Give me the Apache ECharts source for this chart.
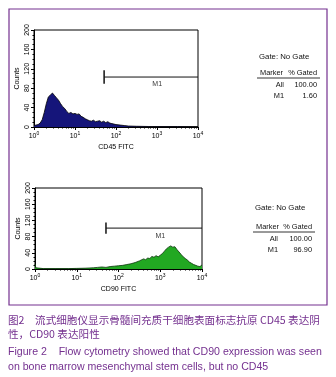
<!DOCTYPE html>
<html>
<head>
<meta charset="utf-8">
<script src="https://cdn.jsdelivr.net/npm/echarts@6/dist/echarts.min.js"></script>
<style>
  html, body { margin: 0; padding: 0; background: #fff; }
  #chart { width: 336px; height: 377px; }
</style>
</head>
<body>
<div id="chart"></div>
<script>
// CD45 histogram (x = log10 channel position, y = counts)
const cd45X = [0.00, 0.05, 0.10, 0.15, 0.20, 0.25, 0.30, 0.35, 0.40, 0.45, 0.50, 0.55, 0.60, 0.65, 0.70, 0.75,
  0.80, 0.85, 0.90, 0.95, 1.00, 1.05, 1.10, 1.15, 1.20, 1.25, 1.30, 1.35, 1.40, 1.45, 1.50, 1.55, 1.60, 1.65,
  1.70, 1.75, 1.80, 1.85, 1.90, 1.95, 2.00, 2.10, 2.20, 2.30, 2.50, 2.80, 3.00, 3.50, 4.00]
const cd45Y = [3, 4, 5, 8, 15, 30, 48, 62, 66, 70, 65, 60, 55, 48, 42, 38,
  32, 28, 30, 27, 28, 26, 27, 22, 20, 17, 15, 13, 12, 14, 11, 12, 13, 10,
  12, 9, 11, 8, 7, 6, 5, 4, 3, 2, 1.5, 1, 1, 1, 1]

// CD90 histogram
const cd90X = [0.00, 0.02, 0.05, 0.20, 0.50, 0.80, 1.00, 1.20, 1.40, 1.50, 1.60, 1.70, 1.80, 1.90, 2.00, 2.10,
  2.20, 2.30, 2.40, 2.50, 2.60, 2.65, 2.70, 2.75, 2.80, 2.85, 2.90, 2.95, 3.00, 3.05, 3.10, 3.15, 3.20, 3.25,
  3.30, 3.35, 3.40, 3.45, 3.50, 3.55, 3.60, 3.65, 3.70, 3.75, 3.80, 3.85, 3.90, 3.95, 4.00]
const cd90Y = [12, 3, 1, 1, 1, 1, 1.5, 2, 3, 4, 5, 4, 6, 7, 8, 9,
  11, 13, 16, 20, 25, 23, 27, 26, 31, 29, 33, 30, 34, 38, 44, 50, 54, 57,
  54, 55, 48, 42, 36, 30, 26, 22, 17, 14, 11, 9, 7, 6, 10]

// M1 gates: [start, end, level]
const gateCD45 = [1.71, 4, 103]
const gateCD90 = [1.70, 4, 101]

const yTicks = [0, 40, 80, 120, 160, 200]

const statsCD45 = [['All', '100.00'], ['M1', '1.60']]
const statsCD90 = [['All', '100.00'], ['M1', '96.90']]

const captionLines = [
  '图2\u3000流式细胞仪显示骨髓间充质干细胞表面标志抗原 CD45 表达阴',
  '性，CD90 表达阳性',
  'Figure 2    Flow cytometry showed that CD90 expression was seen',
  'on bone marrow mesenchymal stem cells, but no CD45',
]

const zip = (xs, ys) => xs.map((x, i) => [x, ys[i]])

// minor log ticks between decades
const logMinor = []
for (let d = 0; d < 4; d++) {
  for (let k = 2; k <= 9; k++) logMinor.push(d + Math.log10(k))
}

const font = 'Liberation Sans, Arial, sans-serif'
const purple = '#74308f'

function xMain(gridIndex, name) {
  return {
    type: 'value', gridIndex, min: 0, max: 4, interval: 1,
    name, nameLocation: 'middle', nameGap: 17,
    nameTextStyle: { fontSize: 7, color: '#000', fontFamily: font },
    axisLine: { lineStyle: { color: '#000', width: 1 } },
    axisTick: { show: true, length: 3, lineStyle: { color: '#000' } },
    splitLine: { show: false },
    axisLabel: {
      margin: 4,
      formatter: (v) => '10{s|' + v + '}',
      color: '#000', fontSize: 7, fontFamily: font,
      rich: { s: { fontSize: 5, padding: [0, 0, 5, 0], color: '#000', fontFamily: font } },
    },
  }
}

function xMinor(gridIndex) {
  return {
    type: 'value', gridIndex, min: 0, max: 4, position: 'bottom',
    axisLine: { show: false },
    axisTick: { show: true, length: 1.5, customValues: logMinor, lineStyle: { color: '#000' } },
    axisLabel: { show: false },
    splitLine: { show: false },
  }
}

function yMain(gridIndex) {
  return {
    type: 'value', gridIndex, min: 0, max: 200, interval: 40,
    name: 'Counts', nameLocation: 'middle', nameGap: 13, nameRotate: 90,
    nameTextStyle: { fontSize: 7, color: '#000', fontFamily: font },
    axisLine: { show: true, lineStyle: { color: '#000', width: 1 } },
    axisTick: { show: true, length: 3, lineStyle: { color: '#000' } },
    minorTick: { show: true, splitNumber: 4, length: 1.5, lineStyle: { color: '#000' } },
    splitLine: { show: false },
    axisLabel: {
      rotate: 90, margin: 3, color: '#000', fontSize: 7, fontFamily: font,
      customValues: yTicks,
    },
  }
}

function histSeries(idx, data, fill, edge) {
  return {
    type: 'line', xAxisIndex: idx * 2, yAxisIndex: idx,
    data, symbol: 'none', silent: true,
    lineStyle: { color: edge, width: 0.8 },
    areaStyle: { color: fill, opacity: 1 },
    z: 2,
  }
}

function gateSeries(idx, gate, labelY) {
  const [s, e, lv] = gate
  return [
    {
      type: 'line', xAxisIndex: idx * 2, yAxisIndex: idx, symbol: 'none', clip: false,
      data: [[s, lv + 14], [s, lv - 14]],
      lineStyle: { color: '#111', width: 1.5 }, z: 3,
    },
    {
      type: 'line', xAxisIndex: idx * 2, yAxisIndex: idx, symbol: 'none', clip: false,
      data: [[s, lv], [e, lv]],
      lineStyle: { color: '#111', width: 1 }, z: 3,
    },
    {
      type: 'scatter', xAxisIndex: idx * 2, yAxisIndex: idx, symbolSize: 0,
      data: [[(s + e) / 2 + 0.15, labelY]],
      label: { show: true, formatter: 'M1', position: 'inside', fontSize: 7, color: '#000', fontFamily: font },
      z: 3,
    },
  ]
}

function statsGraphic(x0, yGate, yHead, rows, colA, colB) {
  const g = []
  const ts = { fontSize: 7.4, fontFamily: font, fill: '#111' }
  g.push({ type: 'text', x: x0, y: yGate, style: { ...ts, fontSize: 7.8, text: 'Gate: No Gate', textVerticalAlign: 'middle' } })
  g.push({ type: 'text', x: x0 + 1, y: yHead, style: { ...ts, text: 'Marker', textVerticalAlign: 'middle' } })
  g.push({ type: 'text', x: colB, y: yHead, style: { ...ts, text: '% Gated', textAlign: 'right', textVerticalAlign: 'middle' } })
  g.push({ type: 'line', shape: { x1: x0 - 2, y1: yHead + 5, x2: colB + 3, y2: yHead + 5 }, style: { stroke: '#000', lineWidth: 0.8 } })
  rows.forEach((r, i) => {
    const y = yHead + 12 + i * 11
    g.push({ type: 'text', x: colA, y, style: { ...ts, text: r[0], textAlign: 'right', textVerticalAlign: 'middle' } })
    g.push({ type: 'text', x: colB, y, style: { ...ts, text: r[1], textAlign: 'right', textVerticalAlign: 'middle' } })
  })
  return g
}

const chart = echarts.init(document.getElementById('chart'))

const graphic = [
  { type: 'rect', shape: { x: 9, y: 9, width: 318, height: 296 }, style: { fill: 'none', stroke: purple, lineWidth: 1.2 } },
  ...statsGraphic(259, 57, 73, statsCD45, 284, 317),
  ...statsGraphic(255, 208, 227, statsCD90, 278, 312),
]
captionLines.forEach((t, i) => {
  const ys = [320, 334, 352, 367]
  const cjk = i < 2
  graphic.push({
    type: 'text', x: 8, y: ys[i],
    style: {
      text: t, fill: purple, textVerticalAlign: 'middle',
      fontSize: 10.6,
      fontFamily: cjk ? 'Noto Sans CJK SC, sans-serif' : font,
    },
  })
})

chart.setOption({
  animation: false,
  grid: [
    { left: 34, top: 30, width: 164, height: 97, show: true, borderColor: '#000', borderWidth: 1 },
    { left: 35, top: 188, width: 167, height: 81, show: true, borderColor: '#000', borderWidth: 1 },
  ],
  xAxis: [xMain(0, 'CD45 FITC'), xMinor(0), xMain(1, 'CD90 FITC'), xMinor(1)],
  yAxis: [yMain(0), yMain(1)],
  series: [
    histSeries(0, zip(cd45X, cd45Y), '#15157a', '#000'),
    histSeries(1, zip(cd90X, cd90Y), '#22a822', '#0b330b'),
    ...gateSeries(0, gateCD45, 88),
    ...gateSeries(1, gateCD90, 82),
  ],
  graphic,
})
</script>
</body>
</html>
